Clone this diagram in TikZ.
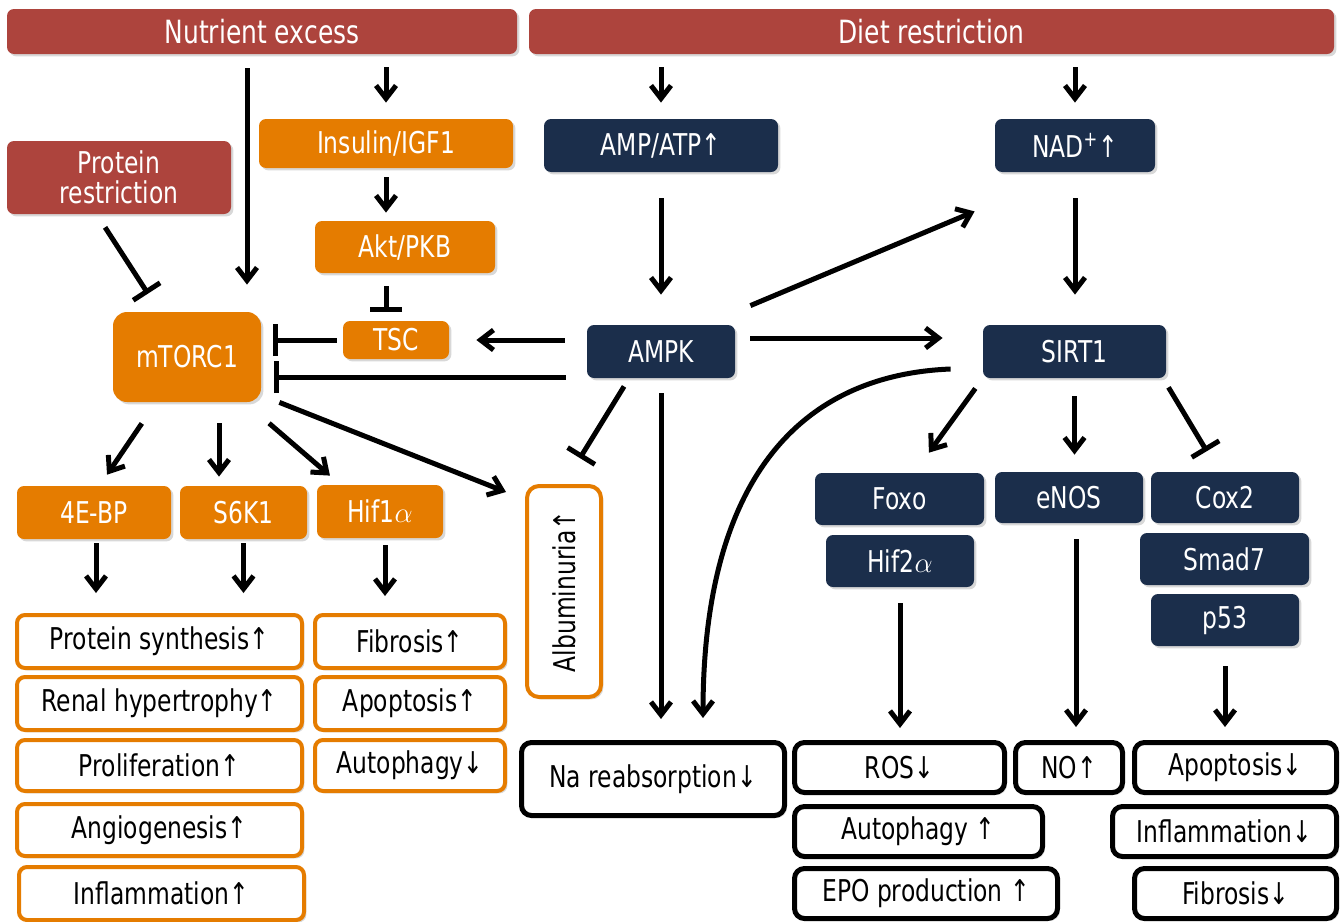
\documentclass[tikz,border=0pt]{standalone}
\usepackage{fontspec}
\setmainfont[FakeStretch=0.78]{DejaVu Sans}
\usetikzlibrary{arrows.meta, shadows}
\definecolor{brick}{RGB}{173,68,61}
\definecolor{amber}{RGB}{229,124,0}
\definecolor{navy}{RGB}{27,46,75}

\begin{document}
\begin{tikzpicture}[x=0.5pt, y=-0.5pt,
    every node/.style={font=\fontsize{15}{15}\selectfont, inner sep=0pt, align=center},
    sz/.style 2 args={minimum width=#1*0.5pt, minimum height=#2*0.5pt},
    boxshadow/.style={drop shadow={shadow xshift=1.2pt, shadow yshift=-1.2pt, opacity=0.3}},
    redbox/.style={boxshadow, fill=brick, text=white, rounded corners=3.5pt},
    orbox/.style={boxshadow, fill=amber, text=white, rounded corners=3.5pt},
    navbox/.style={boxshadow, fill=navy, text=white, rounded corners=3.5pt},
    orline/.style={boxshadow, draw=amber, fill=white, line width=2pt, rounded corners=4pt},
    blkline/.style={boxshadow, draw=black, fill=white, line width=2.5pt, rounded corners=5pt},
    arr/.style={line width=2.5pt, -{Straight Barb[length=6.5pt, width=10pt]}},
    inh/.style={line width=2.5pt, -{Bar[width=16pt]}}]

    \useasboundingbox (0,0) rectangle (1343,921);
    \fill[white] (0,0) rectangle (1343,921);

    \node[redbox, sz={510}{45}, font=\fontsize{16}{16}\selectfont] (nutr) at (262,31.5) {Nutrient excess};
    \node[redbox, sz={805}{45}, font=\fontsize{16}{16}\selectfont] (diet) at (931.5,31.5) {Diet restriction};
    \node[redbox, sz={224}{73}] (prot) at (119,177.5) {Protein\\restriction};

    \node[orbox, sz={254}{49}] (ins) at (386,143.5) {Insulin/IGF1};
    \node[orbox, sz={180}{52}] (akt) at (405,247) {Akt/PKB};
    \node[orbox, sz={106}{38}] (tsc) at (396,340) {TSC};
    \node[orbox, sz={148}{90}, rounded corners=7pt] (mtor) at (187,357) {mTORC1};
    \node[orbox, sz={154}{53}] (eb) at (94,512.5) {4E-BP};
    \node[orbox, sz={127}{53}] (s6k) at (243.5,512.5) {S6K1};
    \node[orbox, sz={126}{53}] (hifa) at (380,511.5) {Hif1$\alpha$};

    \node[orline, sz={285}{53}] (psyn) at (159.5,641.5) {Protein synthesis↑};
    \node[orline, sz={285}{53}] (renal) at (159.5,703.5) {Renal hypertrophy↑};
    \node[orline, sz={285}{51}] (prol) at (159.5,765.5) {Proliferation↑};
    \node[orline, sz={285}{52}] (angio) at (159.5,830) {Angiogenesis↑};
    \node[orline, sz={285}{53}] (influ) at (161.5,893.5) {Inflammation↑};
    \node[orline, sz={190}{53}] (fibu) at (410,641.5) {Fibrosis↑};
    \node[orline, sz={190}{53}] (apou) at (410,703.5) {Apoptosis↑};
    \node[orline, sz={190}{51}] (autd) at (410,765.5) {Autophagy↓};
    \node[orline, sz={211}{74}, rotate=90, rounded corners=6pt] (alb) at (564,591.5) {Albuminuria↑};

    \node[navbox, sz={234}{53}] (amp) at (661,145.5) {AMP/ATP↑};
    \node[navbox, sz={160}{53}] (nad) at (1075,145.5) {NAD\textsuperscript{+}↑};
    \node[navbox, sz={148}{53}] (ampk) at (661,351.5) {AMPK};
    \node[navbox, sz={183}{53}] (sirt) at (1074.5,351.5) {SIRT1};
    \node[navbox, sz={169}{52}] (foxo) at (899.5,499) {Foxo};
    \node[navbox, sz={148}{52}] (hifb) at (900,561) {Hif2$\alpha$};
    \node[navbox, sz={148}{51}] (enos) at (1069,497.5) {eNOS};
    \node[navbox, sz={148}{51}] (cox) at (1225,497.5) {Cox2};
    \node[navbox, sz={169}{52}] (smad) at (1224.5,559) {Smad7};
    \node[navbox, sz={148}{52}] (p53) at (1225,620) {p53};

    \node[blkline, sz={263}{73}] (na) at (653,779) {Na reabsorption↓};
    \node[blkline, sz={210}{50}] (ros) at (899.5,767.5) {ROS↓};
    \node[blkline, sz={107}{50}] (no) at (1069,767.5) {NO↑};
    \node[blkline, sz={202}{50}] (apod) at (1235.5,767.5) {Apoptosis↓};
    \node[blkline, sz={248}{50}] (autu) at (918.5,831.5) {Autophagy ↑};
    \node[blkline, sz={224}{50}] (infd) at (1224.5,831.5) {Inflammation↓};
    \node[blkline, sz={263}{50}] (epo) at (926,893.5) {EPO production ↑};
    \node[blkline, sz={202}{50}] (fibd) at (1235.5,893.5) {Fibrosis↓};

    \draw[arr, shorten <=7pt, shorten >=13.5pt] ([xshift=-7.5pt]nutr.south) -- ([xshift=-7.5pt]nutr.south |- mtor.north);
    \draw[arr, shorten <=6.5pt, shorten >=8pt] (ins.north |- nutr.south) -- (ins.north);
    \draw[arr, shorten <=4.5pt, shorten >=4pt] (ins.south) -- (ins.south |- akt.north);
    \draw[inh, shorten <=6.5pt, shorten >=4.5pt] ([xshift=-9.5pt]akt.south) -- ([xshift=-9.5pt]akt.south |- tsc.north);
    \draw[inh, shorten <=3pt, shorten >=6pt] (tsc.west) -- (tsc.west -| mtor.east);
    \draw[inh, shorten <=10.5pt, shorten >=6.5pt] ([yshift=-12.75pt]ampk.west) -- ([yshift=-12.75pt]ampk.west -| mtor.east);
    \draw[arr, shorten <=11pt, shorten >=13.5pt] (tsc.east -| ampk.west) -- (tsc.east);
    \draw[inh, shorten <=7.7pt, shorten >=10.7pt] ([xshift=-11.15pt]prot.south) -- ([xshift=-13.7pt]mtor.north);

    \draw[arr, shorten <=12.7pt, shorten >=6.6pt] ([xshift=-15.45pt]mtor.south) -- ([xshift=2.8pt]eb.north);
    \draw[arr, shorten <=10.5pt, shorten >=4.5pt] ([xshift=16pt]mtor.south) -- ([xshift=16pt]mtor.south |- s6k.north);
    \draw[arr, shorten <=16pt, shorten >=6.9pt] ([xshift=28.9pt]mtor.south) -- ([xshift=-19.8pt]hifa.north);
    \draw[arr] ([xshift=9pt]mtor.south east) -- ([xshift=-9.5pt, yshift=-4pt]alb.north east);

    \draw[arr, shorten <=2pt, shorten >=10pt] ([xshift=1pt]eb.south) -- ([xshift=1pt]eb.south |- psyn.north);
    \draw[arr, shorten <=2pt, shorten >=10pt] (s6k.south) -- (s6k.south |- psyn.north);
    \draw[arr, shorten <=3.5pt, shorten >=8.5pt] ([xshift=2.5pt]hifa.south) -- ([xshift=2.5pt]hifa.south |- fibu.north);

    \draw[arr, shorten <=6.5pt, shorten >=8pt] (amp.north |- diet.south) -- (amp.north);
    \draw[arr, shorten <=6.5pt, shorten >=8pt] (nad.north |- diet.south) -- (nad.north);
    \draw[arr, shorten <=13pt, shorten >=15pt] (amp.south) -- (amp.south |- ampk.north);
    \draw[arr, shorten <=13pt, shorten >=15pt] (nad.south) -- (nad.south |- sirt.north);
    \draw[arr] ([shift={(7.5pt,9.5pt)}]ampk.north east) -- ([shift={(-10pt,-19.5pt)}]nad.south west);
    \draw[arr, shorten <=7.5pt, shorten >=20pt] ([yshift=6.75pt]ampk.east) -- ([yshift=6.75pt]ampk.east -| sirt.west);
    \draw[inh, shorten <=4.7pt, shorten >=15.2pt] ([xshift=-16pt]ampk.south) -- (alb.east);
    \draw[arr, shorten <=7.5pt, shorten >=10.5pt] (ampk.south) -- (ampk.south |- na.north);
    \draw[arr] ([shift={(-16pt,-8.75pt)}]sirt.west) .. controls +(-151,6) and +(0,-238) .. ([shift={(25pt,11pt)}]na.north);

    \draw[arr, shorten <=6.2pt, shorten >=12.3pt] (sirt.south west) -- ([xshift=7.5pt]foxo.north);
    \draw[arr, shorten <=9pt, shorten >=8.5pt] (sirt.south) -- (sirt.south |- enos.north);
    \draw[inh, shorten <=5.2pt, shorten >=11.9pt] ([xshift=-1.65pt]sirt.south east) -- ([xshift=-3pt]cox.north);
    \draw[arr, shorten <=8pt, shorten >=6pt] (hifb.south) -- (hifb.south |- ros.north);
    \draw[arr, shorten <=8pt, shorten >=6.5pt] ([xshift=3.5pt]enos.south) -- ([xshift=3.5pt]enos.south |- no.north);
    \draw[arr, shorten <=10pt, shorten >=6.5pt] (p53.south) -- (p53.south |- apod.north);
\end{tikzpicture}
\end{document}
